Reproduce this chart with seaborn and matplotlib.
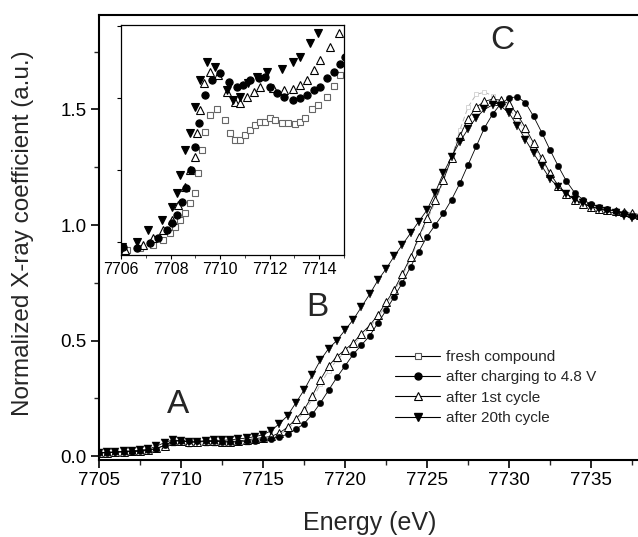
import numpy as np
import pandas as pd
import matplotlib
matplotlib.use("Agg")
import matplotlib.pyplot as plt
import seaborn as sns
from matplotlib.ticker import MultipleLocator, NullFormatter
from matplotlib.lines import Line2D

# ---------------- data (main panel) ----------------
energy = [7705.0, 7705.5, 7706.0, 7706.5, 7707.0, 7707.5, 7708.0, 7708.5, 7709.0, 7709.5,
          7710.0, 7710.5, 7711.0, 7711.5, 7712.0, 7712.5, 7713.0, 7713.5, 7714.0, 7714.5,
          7715.0, 7715.5, 7716.0, 7716.5, 7717.0, 7717.5, 7718.0, 7718.5, 7719.0, 7719.5,
          7720.0, 7720.5, 7721.0, 7721.5, 7722.0, 7722.5, 7723.0, 7723.5, 7724.0, 7724.5,
          7725.0, 7725.5, 7726.0, 7726.5, 7727.0, 7727.5, 7728.0, 7728.5, 7729.0, 7729.5,
          7730.0, 7730.5, 7731.0, 7731.5, 7732.0, 7732.5, 7733.0, 7733.5, 7734.0, 7734.5,
          7735.0, 7735.5, 7736.0, 7736.5, 7737.0, 7737.5, 7738.0]

fresh = [0.013, 0.015, 0.017, 0.018, 0.019, 0.020, 0.022, 0.027, 0.034, 0.053,
         0.055, 0.049, 0.050, 0.053, 0.054, 0.053, 0.053, 0.055, 0.058, 0.063,
         0.070, 0.078, 0.092, 0.115, 0.150, 0.190, 0.245, 0.310, 0.370, 0.415,
         0.450, 0.480, 0.520, 0.555, 0.600, 0.650, 0.710, 0.780, 0.855, 0.940,
         1.020, 1.100, 1.190, 1.290, 1.410, 1.510, 1.565, 1.575, 1.560, 1.535,
         1.500, 1.460, 1.405, 1.345, 1.280, 1.220, 1.170, 1.135, 1.110, 1.090,
         1.080, 1.070, 1.065, 1.060, 1.055, 1.050, 1.045]

charged = [0.013, 0.015, 0.017, 0.018, 0.019, 0.021, 0.024, 0.032, 0.046, 0.062,
           0.067, 0.064, 0.064, 0.065, 0.064, 0.061, 0.060, 0.061, 0.063, 0.067,
           0.072, 0.075, 0.082, 0.095, 0.115, 0.140, 0.180, 0.230, 0.285, 0.340,
           0.390, 0.440, 0.480, 0.520, 0.575, 0.630, 0.690, 0.750, 0.820, 0.885,
           0.950, 1.000, 1.050, 1.110, 1.180, 1.260, 1.340, 1.420, 1.480, 1.525,
           1.550, 1.555, 1.530, 1.470, 1.400, 1.325, 1.255, 1.190, 1.140, 1.110,
           1.090, 1.080, 1.070, 1.060, 1.050, 1.040, 1.035]

cycle1 = [0.013, 0.015, 0.017, 0.018, 0.020, 0.022, 0.026, 0.034, 0.045, 0.067,
          0.066, 0.060, 0.060, 0.063, 0.063, 0.062, 0.0625, 0.065, 0.070, 0.075,
          0.080, 0.085, 0.100, 0.125, 0.160, 0.200, 0.260, 0.330, 0.390, 0.430,
          0.460, 0.490, 0.530, 0.565, 0.610, 0.665, 0.720, 0.790, 0.860, 0.950,
          1.030, 1.110, 1.195, 1.290, 1.385, 1.460, 1.510, 1.535, 1.545, 1.540,
          1.525, 1.480, 1.420, 1.355, 1.290, 1.225, 1.170, 1.135, 1.110, 1.090,
          1.080, 1.070, 1.065, 1.060, 1.055, 1.050, 1.045]

cycle20 = [0.014, 0.016, 0.018, 0.020, 0.023, 0.025, 0.029, 0.043, 0.058, 0.070,
           0.066, 0.060, 0.062, 0.066, 0.0675, 0.068, 0.070, 0.074, 0.078, 0.084,
           0.092, 0.110, 0.140, 0.175, 0.230, 0.285, 0.350, 0.415, 0.465, 0.500,
           0.545, 0.590, 0.645, 0.700, 0.760, 0.810, 0.865, 0.915, 0.965, 1.015,
           1.065, 1.140, 1.225, 1.295, 1.360, 1.415, 1.465, 1.500, 1.520, 1.515,
           1.485, 1.430, 1.370, 1.310, 1.255, 1.200, 1.165, 1.135, 1.110, 1.095,
           1.080, 1.070, 1.060, 1.050, 1.040, 1.030, 1.025]

# ---------------- data (inset) ----------------
in_fresh_e = [7706.23, 7706.77, 7707.31, 7707.71, 7707.98, 7708.18, 7708.38, 7708.59, 7708.79, 7708.99,
              7709.12, 7709.26, 7709.39, 7709.60, 7709.87, 7710.20, 7710.40, 7710.61, 7710.81, 7711.01,
              7711.21, 7711.41, 7711.62, 7711.82, 7712.02, 7712.22, 7712.49, 7712.76, 7713.03, 7713.23,
              7713.43, 7713.70, 7713.97, 7714.31, 7714.58, 7714.85]
in_fresh_v = [0.0178, 0.0183, 0.0192, 0.0206, 0.0224, 0.0243, 0.0261, 0.0280, 0.0308, 0.0335,
              0.0391, 0.0456, 0.0506, 0.0553, 0.0571, 0.0539, 0.0502, 0.0483, 0.0483, 0.0497,
              0.0511, 0.0525, 0.0534, 0.0534, 0.0544, 0.0539, 0.0531, 0.0531, 0.0528, 0.0534,
              0.0544, 0.0571, 0.0581, 0.0604, 0.0633, 0.0664]

in_charged_e = [7706.09, 7706.63, 7707.17, 7707.51, 7707.85, 7708.05, 7708.25, 7708.45, 7708.63, 7708.82,
                7708.99, 7709.16, 7709.39, 7709.66, 7710.00, 7710.34, 7710.67, 7710.94, 7711.21, 7711.55,
                7711.82, 7712.02, 7712.29, 7712.56, 7712.96, 7713.23, 7713.50, 7713.77, 7714.04, 7714.31,
                7714.58, 7714.85, 7715.05]
in_charged_v = [0.0187, 0.0183, 0.0196, 0.0210, 0.0233, 0.0252, 0.0275, 0.0312, 0.0349, 0.0400,
                0.0465, 0.0530, 0.0608, 0.0650, 0.0669, 0.0645, 0.0631, 0.0636, 0.0650, 0.0655,
                0.0659, 0.0631, 0.0613, 0.0604, 0.0594, 0.0599, 0.0608, 0.0622, 0.0631, 0.0655,
                0.0673, 0.0696, 0.0715]

in_cycle1_e = [7706.16, 7706.90, 7707.31, 7707.71, 7708.05, 7708.32, 7708.59, 7708.79, 7708.99, 7709.06,
               7709.19, 7709.33, 7709.60, 7709.93, 7710.27, 7710.61, 7710.81, 7711.08, 7711.35, 7711.62,
               7712.15, 7712.56, 7712.96, 7713.23, 7713.50, 7713.77, 7714.04, 7714.44, 7714.78]
in_cycle1_v = [0.0178, 0.0192, 0.0210, 0.0233, 0.0261, 0.0303, 0.0354, 0.0400, 0.0437, 0.0502,
               0.0567, 0.0641, 0.0673, 0.0664, 0.0617, 0.0590, 0.0585, 0.0604, 0.0617, 0.0631,
               0.0627, 0.0622, 0.0624, 0.0636, 0.0650, 0.0678, 0.0706, 0.0743, 0.0780]

in_cycle20_e = [7706.03, 7706.63, 7707.10, 7707.64, 7708.05, 7708.25, 7708.38, 7708.59, 7708.79, 7708.99,
                7709.19, 7709.46, 7709.80, 7710.27, 7710.54, 7710.81, 7711.14, 7711.48, 7711.89, 7712.49,
                7712.96, 7713.23, 7713.64, 7713.97]
in_cycle20_v = [0.0187, 0.0201, 0.0233, 0.0261, 0.0298, 0.0335, 0.0386, 0.0456, 0.0503, 0.0576,
                0.0650, 0.0701, 0.0687, 0.0622, 0.0594, 0.0604, 0.0641, 0.0659, 0.0673, 0.0682,
                0.0701, 0.0715, 0.0752, 0.0780]

labels = ["fresh compound", "after charging to 4.8 V", "after 1st cycle", "after 20th cycle"]
xticks_main = [7705, 7710, 7715, 7720, 7725, 7730, 7735]
yticks_main = [0.0, 0.5, 1.0, 1.5]
xticks_inset = [7706, 7708, 7710, 7712, 7714]

# ---------------- figure ----------------
sns.set_theme(style="ticks")
plt.rcParams["font.family"] = ["Liberation Sans", "DejaVu Sans"]

fig = plt.figure(figsize=(6.38, 5.37), dpi=100)
W, H = 638, 537
ax = fig.add_axes([99 / W, 1 - 459.5 / H, 574 / W, 444.5 / H])

main_df = pd.DataFrame({"energy": energy, "fresh": fresh, "charged": charged,
                        "cycle1": cycle1, "cycle20": cycle20})

sns.lineplot(data=main_df, x="energy", y="fresh", ax=ax, color="#b5b5b5", lw=0.7,
             linestyle=(0, (5, 3)), marker="s", markersize=3, markerfacecolor="white",
             markeredgecolor="#d0d0d0", markeredgewidth=0.6, zorder=2)
sns.lineplot(data=main_df, x="energy", y="cycle1", ax=ax, color="black", lw=0.6,
             marker="^", markersize=5.5, markerfacecolor="white", markeredgecolor="black",
             markeredgewidth=0.7, zorder=3)
sns.lineplot(data=main_df, x="energy", y="charged", ax=ax, color="black", lw=0.6,
             marker="o", markersize=4.6, markerfacecolor="black", markeredgecolor="black",
             markeredgewidth=0.3, zorder=4)
sns.lineplot(data=main_df, x="energy", y="cycle20", ax=ax, color="black", lw=0.6,
             marker="v", markersize=5.5, markerfacecolor="black", markeredgecolor="black",
             markeredgewidth=0.3, zorder=5)

ax.set_xlim(7705, 7740)
ax.set_ylim(-0.015, 1.909)
ax.set_xticks(xticks_main)
ax.set_yticks(yticks_main)
ax.set_yticklabels([f"{v:.1f}" for v in yticks_main])
ax.xaxis.set_minor_locator(MultipleLocator(2.5))
ax.yaxis.set_minor_locator(MultipleLocator(0.25))
ax.tick_params(which="major", direction="out", length=6, width=1.2, labelsize=13.5,
               colors="black", pad=3)
ax.tick_params(which="minor", direction="out", length=3.5, width=1.0)
for s in ax.spines.values():
    s.set_linewidth(1.5)
    s.set_color("black")
ax.set_xlabel("Energy (eV)", fontsize=18)
ax.set_ylabel("Normalized X-ray coefficient (a.u.)", fontsize=17.5)
ax.xaxis.set_label_coords((370 - 99) / 574, -0.115)
ax.yaxis.set_label_coords((34 - 99) / 574, (459.5 - 233) / 444.5)

ax.text(7709.8, 0.225, "A", fontsize=24, ha="center", va="center")
ax.text(7718.3, 0.645, "B", fontsize=24, ha="center", va="center")
ax.text(7729.6, 1.80, "C", fontsize=24, ha="center", va="center")

handles = [
    Line2D([], [], color="black", lw=0.8, marker="s", markersize=5, markerfacecolor="white",
           markeredgecolor="#555555", markeredgewidth=0.8),
    Line2D([], [], color="black", lw=0.8, marker="o", markersize=5, markerfacecolor="black",
           markeredgecolor="black"),
    Line2D([], [], color="black", lw=0.8, marker="^", markersize=6, markerfacecolor="white",
           markeredgecolor="black", markeredgewidth=0.8),
    Line2D([], [], color="black", lw=0.8, marker="v", markersize=6, markerfacecolor="black",
           markeredgecolor="black"),
]
ax.legend(handles=handles, labels=labels, loc="upper left",
          bbox_to_anchor=(395 / W, 1 - 350 / H), bbox_transform=fig.transFigure,
          frameon=False, fontsize=11, handlelength=2.95, handletextpad=0.4,
          labelspacing=0.42, borderpad=0, borderaxespad=0)

# ---------------- inset ----------------
axi = fig.add_axes([121 / W, 1 - 255 / H, 223 / W, 230 / H])
for e, v, mk, fc, ec, ms, z in [
    (in_fresh_e, in_fresh_v, "s", "white", "#666666", 5, 2),
    (in_cycle1_e, in_cycle1_v, "^", "white", "black", 6, 3),
    (in_charged_e, in_charged_v, "o", "black", "black", 5.2, 4),
    (in_cycle20_e, in_cycle20_v, "v", "black", "black", 6, 5),
]:
    sns.lineplot(x=e, y=v, ax=axi, color=ec, lw=0, marker=mk, markersize=ms,
                 markerfacecolor=fc, markeredgecolor=ec, markeredgewidth=0.8,
                 zorder=z, sort=False)
axi.set_xlim(7706, 7715)
axi.set_ylim(0.0164, 0.0803)
axi.set_xticks(xticks_inset)
axi.xaxis.set_minor_locator(MultipleLocator(1))
axi.set_yticks([0.02, 0.04, 0.06, 0.08])
axi.yaxis.set_major_formatter(NullFormatter())
axi.tick_params(which="major", direction="out", length=3, width=0.8, labelsize=11.5,
                colors="black", pad=2)
axi.tick_params(which="minor", direction="out", length=2, width=0.6)
for s in axi.spines.values():
    s.set_linewidth(0.9)
    s.set_color("black")
axi.set_xlabel("")
axi.set_ylabel("")

fig.savefig("out.png", dpi=100)
